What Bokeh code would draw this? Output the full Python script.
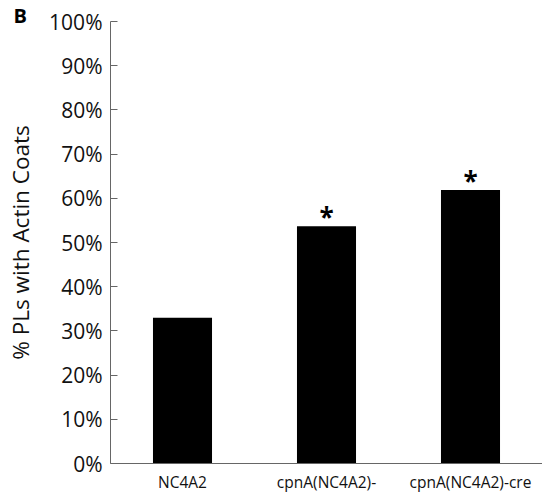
from bokeh.plotting import figure
from bokeh.models import (ColumnDataSource, FactorRange, Range1d, FixedTicker,
                          NumeralTickFormatter)
from bokeh.core.properties import value
from bokeh.embed import file_html
from bokeh.resources import INLINE

categories = ["NC4A2", "cpnA(NC4A2)-", "cpnA(NC4A2)-cre"]
pct_actin = [0.33, 0.537, 0.619]
significance = ["", "*", "*"]
y_ticks = [0, 0.1, 0.2, 0.3, 0.4, 0.5, 0.6, 0.7, 0.8, 0.9, 1.0]
panel_letter = "B"

src = ColumnDataSource(dict(cat=categories, val=pct_actin, sig=significance))

p = figure(x_range=FactorRange(*categories, range_padding=0),
           y_range=Range1d(0, 1),
           frame_width=432, frame_height=442,
           output_backend="svg", toolbar_location=None,
           min_border_left=110, min_border_right=0, min_border_top=21,
           min_border_bottom=26)

p.vbar(x="cat", top="val", width=0.41, source=src, fill_color="black",
       line_color=None)
p.text(x="cat", y="val", text="sig", source=src, text_align="center",
       text_baseline="alphabetic", y_offset=-9, text_font=value("Open Sans"),
       text_font_style="bold", text_font_size="26px", text_color="black")

p.outline_line_color = None
p.xgrid.grid_line_color = None
p.ygrid.grid_line_color = None
p.background_fill_color = "white"

p.title.text = panel_letter
p.title.align = "left"
p.title.offset = -97
p.title.standoff = -15
p.title.text_font = "Open Sans"
p.title.text_font_style = "bold"
p.title.text_font_size = "20px"
p.title.text_line_height = 1.0
p.title.text_color = "black"

ya = p.yaxis[0]
ya.ticker = FixedTicker(ticks=y_ticks)
ya.formatter = NumeralTickFormatter(format="0%")
ya.major_tick_in = 7
ya.major_tick_out = 0
ya.minor_tick_line_color = None
ya.axis_line_color = "#666666"
ya.major_tick_line_color = "#666666"
ya.major_label_text_font = "Open Sans"
ya.major_label_text_font_size = "21px"
ya.major_label_text_color = "#111111"
ya.major_label_standoff = 8
ya.axis_label = "% PLs with Actin Coats"
ya.axis_label_text_font = "Open Sans"
ya.axis_label_text_font_size = "22.5px"
ya.axis_label_text_font_style = "normal"
ya.axis_label_text_color = "#111111"
ya.axis_label_standoff = 10

xa = p.xaxis[0]
xa.major_tick_in = 0
xa.major_tick_out = 0
xa.major_tick_line_color = None
xa.minor_tick_line_color = None
xa.axis_line_color = "#666666"
xa.major_label_text_font = "Open Sans"
xa.major_label_text_font_size = "15.5px"
xa.major_label_text_color = "#111111"
xa.major_label_standoff = 7

open("out.html", "w").write(file_html(p, INLINE))
